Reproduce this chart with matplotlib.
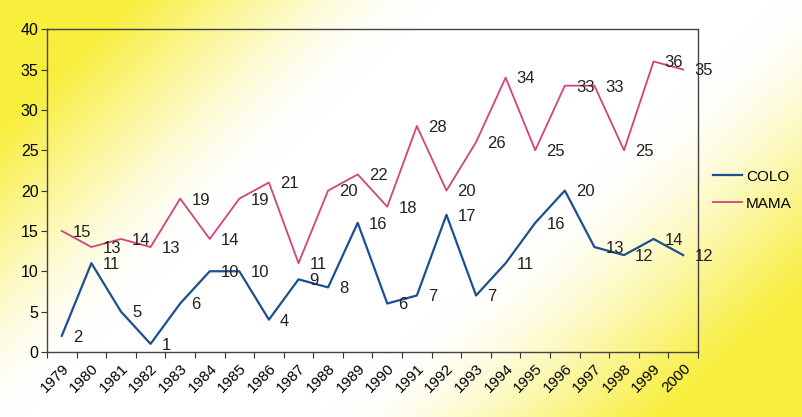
import numpy as np
import matplotlib
matplotlib.use("Agg")
import matplotlib.pyplot as plt
from matplotlib.lines import Line2D

plt.rcParams['font.family'] = ['Liberation Sans', 'DejaVu Sans']

years = [str(y) for y in range(1979, 2001)]
colo = [2, 11, 5, 1, 6, 10, 10, 4, 9, 8, 16, 6, 7, 17, 7, 11, 16, 20, 13, 12, 14, 12]
mama = [15, 13, 14, 13, 19, 14, 19, 21, 11, 20, 22, 18, 28, 20, 26, 34, 25, 33, 33, 25, 36, 35]

colo_color = '#1d4f8f'
mama_color = '#d2437e'

fig = plt.figure(figsize=(8.02, 4.17), dpi=100)

# yellow wash in the top-left and bottom-right corners
bg = fig.add_axes([0, 0, 1, 1], zorder=-10)
gx, gy = np.meshgrid(np.linspace(0, 1, 400), np.linspace(0, 1, 210))
t1 = np.clip(1 - (gx / 0.55 + gy / 1.05), 0, 1)
t2 = np.clip(1 - ((1 - gx) / 0.6 + (1 - gy) / 1.05), 0, 1)
w1 = t1 * t1 * (3 - 2 * t1)
w2 = t2 * t2 * (3 - 2 * t2)
w = np.clip(np.maximum(w1, w2) * 1.25, 0, 1)
yellow = np.array([248, 238, 62]) / 255.0
img = (1 - w[..., None]) * np.ones(3) + w[..., None] * yellow
bg.imshow(img, aspect='auto', interpolation='bilinear')
bg.axis('off')

ax = fig.add_axes([0.0586, 0.156, 0.8117, 0.774])
ax.patch.set_alpha(0)

x = np.arange(len(years))
ax.plot(x, colo, color=colo_color, lw=1.6)
ax.plot(x, mama, color=mama_color, lw=1.3)

for xi, v in zip(x, colo):
    ax.annotate(str(v), (xi, v), xytext=(8, -1), textcoords='offset points',
                va='center', ha='left', fontsize=12, color='#222222')
for xi, v in zip(x, mama):
    ax.annotate(str(v), (xi, v), xytext=(8, -1), textcoords='offset points',
                va='center', ha='left', fontsize=12, color='#222222')

ax.set_xlim(-0.5, len(years) - 0.5)
ax.set_ylim(0, 40)
ax.set_yticks(range(0, 41, 5))
ax.set_xticks(np.arange(len(years) + 1) - 0.5)
ax.set_xticklabels([])
ax.set_xticks(x, minor=True)
ax.set_xticklabels(years, minor=True, rotation=45, ha='right', va='top',
                   rotation_mode='anchor', fontsize=11)
ax.tick_params(axis='x', which='minor', length=0, pad=7)
ax.tick_params(axis='x', which='major', length=4, color='#333333')
ax.tick_params(axis='y', length=4, color='#333333', labelsize=11.5, pad=2)

for sp in ax.spines.values():
    sp.set_color('#444444')
    sp.set_linewidth(1.0)

handles = [Line2D([], [], color=colo_color, lw=1.6),
           Line2D([], [], color=mama_color, lw=1.3)]
fig.legend(handles, ['COLO', 'MAMA'], loc='center left',
           bbox_to_anchor=(0.889, 0.544), frameon=False, fontsize=11,
           handlelength=1.9, handletextpad=0.25, labelspacing=0.85,
           borderpad=0, borderaxespad=0)

fig.savefig('out.png', dpi=100)
